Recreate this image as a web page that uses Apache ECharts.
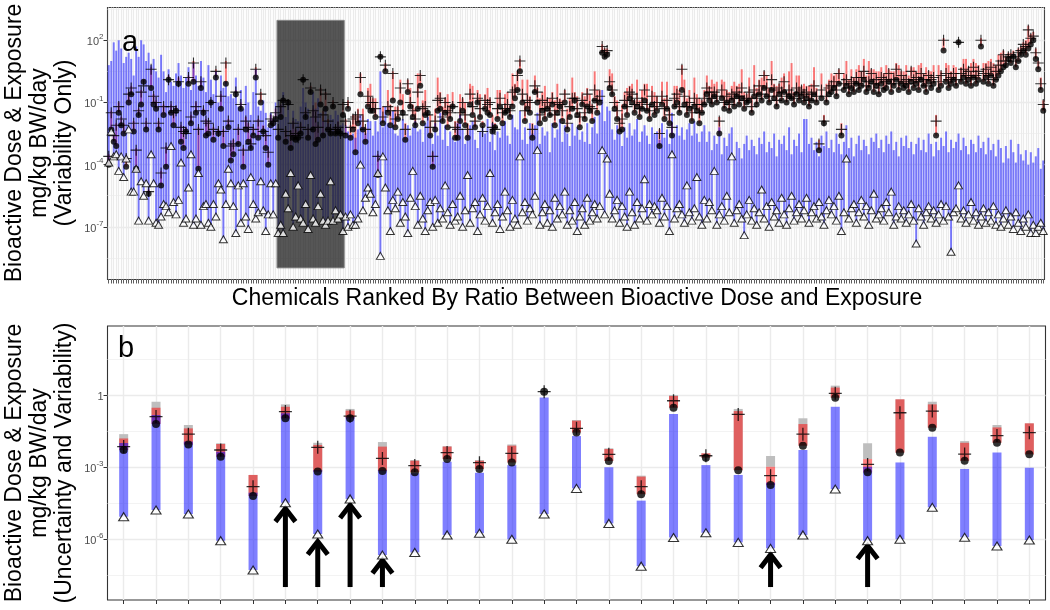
<!DOCTYPE html>
<html>
<head>
<meta charset="utf-8">
<script src="https://cdn.jsdelivr.net/npm/echarts@6/dist/echarts.min.js"></script>
<style>html,body{margin:0;padding:0;background:#fff}#chart{width:1050px;height:610px}</style>
</head>
<body>
<div id="chart"></div>
<script>
// ---------------- Panel a : 376 chemicals, values are log10(mg/kg BW/day) ----------------
const topExposureLowLog10 = [ // triangles = lower end of blue bar
 -3.9,-2.4,-3.6,-3.5,-4.3,-3.6,-4.6,-3.7,-2.3,-5.3,
 -5.3,-4.2,-6.7,-4.8,-5.5,-4.9,-6.7,-3.5,-4.9,-6.8,
 -6.9,-6.5,-5.9,-6.0,-6.3,-3.1,-5.8,-6.4,-5.7,-3.9,
 -6.8,-6.6,-5.1,-3.5,-6.9,-6.6,-4.4,-6.9,-6.0,-5.9,
 -6.8,-7.0,-5.9,-6.5,-4.9,-5.2,-7.6,-5.9,-4.2,-4.9,
 -6.0,-7.3,-5.0,-6.8,-4.9,-6.5,-7.1,-4.6,-5.9,-6.6,
 -6.3,-4.8,-6.2,-7.2,-6.4,-4.9,-6.4,-4.9,-7.3,-6.9,
 -7.3,-5.4,-6.1,-4.4,-7.0,-6.5,-5.0,-6.6,-6.8,-5.9,
 -7.1,-4.5,-6.6,-6.8,-6.0,-5.4,-6.7,-6.9,-6.7,-4.8,
 -6.7,-6.2,-6.6,-6.4,-7.2,-6.5,-7.0,-6.4,-6.9,-6.9,
 -6.6,-4.0,-6.2,-5.6,-5.1,-5.4,-6.3,-5.9,-4.4,-8.4,
 -3.6,-5.1,-6.2,-7.2,-5.7,-6.1,-5.3,-6.8,-5.8,-6.5,
 -7.3,-5.6,-4.3,-6.0,-6.9,-5.5,-6.6,-7.2,-6.2,-5.8,
 -7.0,-5.7,-6.8,-6.1,-6.6,-5.0,-6.3,-6.9,-5.9,-6.7,
 -6.5,-5.5,-7.0,-6.2,-4.5,-6.8,-6.1,-5.8,-7.2,-6.4,
 -5.6,-6.7,-6.0,-4.4,-6.8,-6.3,-5.9,-7.1,-6.5,-5.3,
 -6.2,-7.0,-5.7,-6.6,-6.9,-3.6,-6.3,-5.8,-6.7,-6.1,
 -6.4,-5.5,-3.3,-6.9,-6.3,-5.9,-6.8,-6.2,-7.0,-5.6,
 -6.6,-6.0,-6.4,-5.3,-6.9,-6.2,-6.7,-5.8,-7.2,-6.5,
 -6.1,-6.9,-5.6,-6.7,-6.3,-5.9,-6.6,-6.0,-3.3,-6.4,
 -3.7,-5.4,-6.6,-6.2,-5.7,-6.8,-6.0,-6.5,-7.0,-5.3,
 -6.3,-6.9,-5.8,-6.6,-6.1,-4.7,-6.7,-5.9,-6.4,-6.0,
 -6.2,-6.8,-5.6,-6.5,-6.0,-7.2,-3.5,-6.6,-6.1,-5.9,
 -6.4,-6.8,-5.0,-6.3,-6.7,-6.1,-4.6,-6.5,-6.9,-5.7,
 -6.6,-5.8,-6.2,-4.3,-6.9,-6.4,-6.0,-6.7,-5.5,-6.3,
 -3.6,-6.8,-6.2,-5.9,-6.6,-7.4,-6.4,-5.7,-6.7,-6.1,
 -6.9,-6.3,-5.2,-6.6,-6.0,-7.0,-5.8,-6.5,-6.2,-6.8,
 -5.6,-6.4,-6.9,-6.1,-5.5,-6.7,-6.3,-5.9,-6.6,-6.2,
 -5.6,-6.8,-6.3,-6.0,-6.6,-5.8,-6.5,-6.9,-6.2,-5.7,
 -6.4,-6.0,-6.7,-5.5,-7.2,-6.3,-3.7,-6.6,-6.1,-5.9,
 -6.8,-6.3,-5.7,-6.5,-6.0,-6.9,-6.2,-5.4,-6.6,-6.4,
 -6.1,-6.7,-5.8,-6.3,-5.3,-6.9,-6.5,-6.0,-6.6,-6.2,
 -6.8,-6.4,-5.9,-6.7,-7.8,-6.1,-6.5,-6.9,-6.3,-6.0,
 -6.6,-6.2,-6.8,-6.4,-5.9,-6.7,-6.0,-6.5,-8.2,-6.3,
 -6.1,-5.0,-6.6,-6.2,-6.8,-6.4,-5.8,-6.7,-6.3,-6.9,
 -6.5,-6.1,-6.8,-6.3,-6.7,-6.0,-6.9,-6.4,-7.0,-6.6,
 -6.2,-6.9,-6.5,-7.1,-6.3,-6.8,-7.2,-6.6,-7.0,-6.4,
 -7.3,-6.9,-7.3,-7.0,-6.8,-7.2
];
const topExposureHighLog10 = [ // upper end of blue bar
 0.8,1.0,1.9,1.5,2.0,1.6,0.9,1.2,1.4,1.1,
 0.3,1.7,1.2,2.0,1.8,1.0,1.4,0.8,1.1,0.5,
 0.2,1.3,0.5,-0.5,0.6,0.0,-0.2,0.4,0.9,0.3,
 -0.3,0.2,0.7,-0.4,0.9,0.3,-0.2,1.0,0.2,-0.5,
 0.8,0.1,-0.6,0.5,-1.0,0.3,-0.3,0.0,-0.7,-0.6,
 -0.8,0.2,-1.2,-0.4,-1.3,-0.2,-1.0,-1.6,-0.5,0.6,
 -1.2,-1.4,-0.9,-1.5,-2.2,-1.5,-1.8,-1.0,-0.9,-1.1,
 -0.5,-1.7,-0.9,-2.0,-1.4,-1.8,-1.9,-1.2,-0.3,-1.0,
 -1.3,-1.7,-0.5,-1.3,-0.8,-1.5,-1.9,-1.2,-2.0,-1.6,
 -1.8,-1.4,-1.6,-2.1,-2.0,-2.1,-2.4,-2.6,-2.5,-2.7,
 -2.3,-1.6,-2.2,-2.5,-1.8,-1.9,-2.6,-1.9,-2.4,0.5,
 -2.2,-1.2,-2.0,-2.2,-1.4,-2.5,-2.6,-2.3,-1.8,-2.7,
 -2.1,-2.6,-2.2,-1.9,-2.4,-2.3,-2.9,-2.0,-1.7,-2.5,
 -3.0,-2.0,-2.6,-1.5,-2.8,-2.1,-3.1,-2.4,-2.7,-2.9,
 -2.0,-1.6,-2.3,-3.0,-2.6,-2.1,-1.9,-2.8,-3.2,-2.4,
 -2.2,-2.5,-1.8,-2.9,-2.0,-3.3,-2.4,-2.7,-2.1,-1.9,
 -2.6,-3.0,-1.6,-2.2,-2.3,-1.4,-2.8,-2.2,-3.0,-2.0,
 -2.5,-2.1,-1.5,-3.0,-2.2,-2.6,-2.4,-3.4,-2.0,-2.7,
 -2.3,-1.8,-2.9,-2.1,-2.5,-3.1,-2.0,-2.6,-2.2,-2.8,
 -2.4,-2.9,-2.0,-3.0,-2.2,-1.7,-2.5,-1.5,-0.4,-1.9,
 -1.2,-1.4,-2.3,-2.8,-2.1,-2.5,-3.1,-2.2,-2.7,-2.0,
 -2.6,-2.3,-1.8,-2.9,-2.4,-2.1,-2.6,-3.0,-2.2,-2.5,
 -2.4,-2.8,-2.0,-2.7,-2.3,-3.0,-1.5,-2.5,-2.1,-2.6,
 -2.2,-2.8,-2.3,-2.0,-2.6,-1.9,-2.5,-2.9,-2.4,-2.1,
 -2.9,-2.4,-3.3,-2.6,-3.0,-2.2,-3.5,-2.7,-3.1,-2.5,
 -2.2,-3.6,-2.9,-3.2,-3.7,-3.0,-2.6,-3.3,-2.8,-3.1,
 -3.5,-2.7,-3.0,-2.4,-3.4,-2.9,-3.2,-2.5,-3.6,-2.8,
 -3.0,-2.6,-3.3,-2.2,-3.5,-2.8,-3.1,-2.5,-3.4,-1.8,
 -1.8,-3.0,-2.7,-3.3,-2.9,-3.6,-2.6,-3.1,-2.4,-3.2,
 -2.8,-3.4,-2.5,-3.0,-3.5,-2.9,-2.1,-3.2,-2.7,-3.6,
 -3.0,-2.6,-3.3,-2.8,-3.1,-3.5,-2.7,-2.9,-2.5,-3.2,
 -2.8,-3.4,-2.6,-3.0,-2.4,-3.3,-2.9,-3.6,-2.7,-3.1,
 -2.6,-3.2,-2.9,-3.5,-3.0,-2.7,-3.3,-2.8,-3.4,-2.5,
 -3.0,-3.6,-2.9,-3.3,-2.7,-3.1,-2.4,-3.4,-2.8,-3.2,
 -2.9,-2.5,-3.3,-2.7,-3.1,-3.5,-2.8,-3.0,-3.4,-2.6,
 -3.2,-2.9,-3.5,-2.7,-3.3,-3.0,-3.6,-2.8,-3.2,-3.9,
 -3.1,-3.7,-2.8,-3.4,-3.9,-3.0,-3.5,-3.8,-3.3,-4.0,
 -3.4,-3.9,-3.6,-3.2,-4.2,-3.8
];
const topDoseLowLog10 = [ // filled dots = lower end of red bar
 -4.0,-2.3,-2.9,-3.1,-1.5,-2.1,-2.5,-4.1,-1.0,-0.6,
 -2.4,-4.2,-1.6,-1.1,0.0,-2.3,-5.4,-0.3,-1.1,-1.3,
 -2.3,-5.0,-1.6,-4.1,0.1,-1.5,-2.1,-1.4,-0.1,-2.9,
 -3.2,-2.4,-0.1,-2.0,0.0,-1.5,-4.2,-0.3,-1.5,-2.6,
 -2.5,-1.0,-2.8,0.2,-2.5,-1.3,-3.1,-0.1,-2.2,-3.8,
 -3.5,-0.6,-3.0,-1.3,-4.1,-2.3,-2.9,-3.2,-2.6,0.2,
 -2.7,-1.0,-2.4,-3.2,-4.0,-2.1,-2.0,-1.8,-2.7,-1.7,
 -0.9,-2.9,-1.0,-3.2,-2.7,-2.8,-2.7,-2.5,0.1,-1.7,
 -2.7,-0.5,-2.3,-3.0,-2.8,-1.1,-2.6,-1.3,-2.3,-2.5,
 -1.2,-2.5,-2.4,-2.5,-1.6,-2.6,-1.3,-2.7,-2.3,-3.4,
 -2.0,-0.6,-2.3,-2.9,-1.2,-1.4,-1.4,-1.7,-4.5,1.2,
 -2.0,0.5,-1.5,-2.1,-0.9,-2.2,-1.8,-1.0,-1.5,-2.8,
 -0.5,-1.2,-1.7,-2.1,-1.3,-0.2,-2.0,-1.6,-1.5,-2.6,
 -4.1,-2.3,-1.4,-1.3,-1.9,-1.5,-2.2,-1.8,-1.2,-2.7,
 -2.7,-1.9,-1.4,-2.1,-2.7,-1.1,-1.6,-2.2,-1.0,-1.7,
 -2.1,-1.3,-1.5,-1.6,-2.4,-2.2,-1.8,-1.2,-2.0,-1.5,
 -1.4,-1.7,-1.2,-0.8,-0.4,0.5,-1.0,-1.9,-1.3,-1.5,
 -2.7,-0.5,-1.0,-2.0,-1.4,-1.8,-1.3,-1.6,-1.1,-2.1,
 -1.5,-1.2,-1.9,-1.0,-2.3,-1.7,-1.3,-0.9,-1.6,-2.2,
 -1.1,-1.8,-1.2,-1.4,-1.9,-0.9,-1.5,-1.0,1.4,1.2,
 1.3,-0.3,-0.6,-1.3,-1.8,-2.4,-2.3,-1.2,-1.6,-0.8,
 -1.0,-1.5,-1.2,-1.7,-1.3,-0.9,-1.4,-1.8,-1.1,-1.6,
 -1.4,-3.1,-1.1,-1.8,-1.3,-2.0,-2.6,-1.2,-1.0,-1.5,
 -0.4,-1.1,-1.6,-1.3,-1.9,-1.2,-1.4,-2.0,-1.5,-1.1,
 -0.6,-0.9,-1.1,-0.7,-1.0,-2.5,-0.8,-1.3,-1.0,-1.4,
 -0.9,-1.2,-0.7,-1.1,-0.8,-1.3,-1.0,-0.9,-1.5,-0.7,
 -1.1,-0.6,-0.9,-0.3,-0.7,-1.0,-0.4,-0.8,-1.2,-0.6,
 -0.9,-0.5,-1.0,-0.7,-0.8,-1.1,-0.6,-0.9,-0.7,-1.0,
 -0.8,-1.2,-0.9,-0.6,-1.0,-3.3,-0.8,-2.0,-1.0,-0.6,
 -0.5,-0.3,-0.7,-0.1,-2.6,-0.4,-0.2,-0.6,-0.3,-0.5,
 -0.1,-0.4,-0.2,0.1,-0.5,-0.3,0.0,-0.5,-0.2,-0.6,
 -0.1,-0.4,-0.3,0.0,-0.5,-0.2,0.1,-0.4,-0.1,-0.3,
 -0.2,-0.5,0.0,-0.3,-0.1,-0.4,0.1,-0.2,-0.5,0.0,
 -0.3,-0.1,-2.6,-0.4,-0.2,1.5,0.0,-0.3,-0.1,0.1,
 -0.2,1.9,0.0,0.2,-0.1,0.1,-0.2,0.2,-0.1,0.1,
 1.7,0.0,0.2,-0.1,0.3,-0.2,0.1,0.3,0.5,0.7,
 0.8,1.1,0.9,1.2,0.7,1.0,1.3,1.5,1.3,1.6,
 1.8,2.0,1.1,0.6,-0.4,-1.4
];
const topDoseMidLog10 = [ // plus signs
 -3.6,-1.5,-2.6,-2.1,-1.2,-1.8,-2.1,-3.7,-0.6,-0.3,
 -2.0,-3.3,-1.4,-0.5,-0.2,-2.0,-5.3,0.6,-0.7,-1.0,
 -2.0,-4.4,-1.2,-3.2,0.1,-1.2,-1.5,-1.4,0.0,-2.2,
 -2.4,-2.5,0.2,-1.7,0.9,-1.2,-2.3,0.0,-1.4,-1.9,
 -2.0,-1.0,-2.3,0.5,-2.4,-0.7,-2.4,0.9,-1.9,-3.1,
 -3.0,-0.5,-2.3,-1.1,-3.3,-1.9,-2.2,-3.0,-2.3,0.6,
 -1.9,-0.6,-2.4,-2.6,-3.4,-1.8,-1.9,-1.5,-2.3,-1.2,
 -0.9,-2.4,-1.1,-2.6,-2.0,-2.5,-2.7,-2.2,0.1,-1.5,
 -2.3,-0.3,-1.4,-1.7,-2.2,-0.4,-1.6,-0.6,-1.9,-2.3,
 -1.0,-2.3,-2.2,-2.5,-1.1,-1.9,-1.0,-2.2,-1.8,-1.7,
 -1.6,0.2,-1.9,-2.3,-0.7,-1.0,-1.0,-1.3,-3.6,1.2,
 -1.7,0.8,-1.2,-1.4,0.4,-1.8,-1.4,-0.3,-1.6,-2.3,
 -0.1,-1.0,-1.4,-1.8,-0.5,0.3,-1.3,-1.2,-1.6,-2.2,
 -3.6,-1.9,-0.9,-0.8,-1.7,-1.0,-1.4,-1.5,-1.2,-2.2,
 -2.3,-1.5,-1.0,-1.6,-2.3,-0.6,-1.2,-1.9,-0.8,-1.3,
 -2.4,-0.9,-1.1,-1.0,-2.2,-2.3,-1.3,-0.8,-1.5,-1.3,
 -1.1,-1.4,-0.5,-0.4,0.3,1.0,-0.6,-1.4,-0.9,-1.0,
 -2.3,-0.2,-0.5,-1.6,-0.9,-1.3,-1.0,-1.4,-0.8,-1.6,
 -1.0,-1.1,-1.4,-0.6,-2.0,-1.2,-0.8,-0.8,-1.3,-1.7,
 -0.9,-1.5,-0.6,-1.2,-1.3,-0.4,-0.9,-0.7,1.7,1.4,
 1.5,0.0,-0.4,-1.0,-1.4,-2.0,-1.8,-0.9,-1.2,-0.5,
 -0.6,-1.1,-0.8,-1.3,-1.0,-0.4,-1.1,-1.4,-0.7,-1.2,
 -1.0,-2.5,-0.7,-1.3,-0.9,-1.6,-2.2,-0.8,-0.6,-1.2,
 0.6,-0.7,-1.2,-1.0,-1.5,-0.8,-1.1,-1.5,-1.1,-0.8,
 -0.3,-0.5,-0.8,-0.5,-0.7,-1.9,-0.4,-1.0,-0.7,-1.1,
 -0.6,-0.8,-0.5,-0.7,-0.3,-0.9,-0.8,-0.5,-1.2,-0.4,
 -0.8,-0.2,-0.6,0.3,-0.3,-0.7,0.1,-0.4,-0.9,-0.3,
 -0.5,0.0,-0.7,-0.4,-0.6,-0.8,-0.3,-0.5,-0.4,-0.6,
 -0.5,-0.9,-0.6,-0.2,-0.7,-3.0,-0.4,-1.9,-0.7,-0.3,
 -0.2,0.0,-0.4,0.4,-2.3,-0.1,0.1,-0.3,0.0,-0.1,
 0.2,-0.1,0.2,0.5,-0.2,0.0,0.4,-0.1,0.1,-0.3,
 0.2,0.1,0.0,0.4,-0.1,0.1,0.6,-0.1,0.3,0.0,
 0.1,-0.1,0.5,0.1,0.2,0.0,0.4,0.1,-0.2,0.3,
 0.1,0.2,-1.9,0.0,0.3,2.0,0.4,0.1,0.2,0.4,
 0.1,1.9,0.4,0.6,0.3,0.5,0.2,0.7,0.3,0.5,
 2.0,0.4,0.6,0.3,0.7,0.1,0.5,0.8,1.0,1.3,
 1.0,1.2,1.3,1.2,1.0,1.4,1.5,1.8,1.7,2.5,
 2.1,2.2,1.4,0.9,-0.1,-1.1
];
const topDoseHighLog10 = [ // upper end of red bar
 -3.5,-1.4,-2.5,-2.0,-1.0,-1.7,-2.0,-3.6,-0.5,-0.2,
 -1.9,-3.2,-1.3,-0.4,0.1,-1.9,-5.2,0.7,-0.6,-0.9,
 -1.9,-4.3,-1.1,-3.1,0.3,-1.1,-1.4,-1.2,0.2,-2.1,
 -2.3,-2.2,0.3,-1.6,1.0,-1.0,-2.2,0.1,-1.3,-1.8,
 -1.9,-0.9,-2.2,0.6,-2.3,-0.6,-2.3,1.0,-1.8,-3.0,
 -2.8,-0.4,-2.2,-1.0,-3.2,-1.7,-2.0,-2.6,-2.2,0.7,
 -1.8,-0.5,-2.1,-2.5,-3.3,-1.6,-1.8,-1.3,-2.2,-1.1,
 -0.8,-2.3,-0.9,-2.4,-1.9,-2.3,-2.4,-2.0,0.2,-1.4,
 -2.2,-0.2,-1.3,-1.0,-2.1,-0.3,-1.4,-0.5,-1.8,-2.2,
 -0.9,-2.2,-1.9,-2.3,-1.0,-1.8,-0.9,-2.1,-1.6,-1.6,
 -1.3,0.4,-1.3,-2.2,-0.3,-0.1,-0.8,-0.8,-3.5,1.3,
 -1.2,0.9,-0.4,-1.1,0.5,-1.2,-1.2,0.1,-0.6,-2.0,
 0.1,-0.3,-1.1,-1.3,0.4,0.4,-0.9,-0.4,-1.4,-1.6,
 -3.4,-1.3,0.2,-0.5,-1.2,-0.8,-0.6,-1.1,-0.5,-1.9,
 -1.9,-0.6,-0.8,-1.0,-2.0,-0.1,-0.2,-1.7,-0.4,-0.6,
 -1.9,-0.6,-0.3,-0.8,-1.6,-2.0,-0.4,-0.4,-1.3,-0.6,
 -0.5,-1.2,0.4,-0.1,0.5,1.1,0.1,-1.0,0.1,-0.7,
 -2.0,0.3,-0.3,-0.8,-0.5,-0.2,-0.8,-0.8,-0.5,-0.9,
 -0.1,-0.8,-0.9,-0.4,-1.3,-0.8,0.2,-0.5,-0.7,-1.5,
 -0.5,-0.7,-0.3,-0.6,-1.1,0.5,-0.4,-0.4,1.8,1.6,
 1.6,0.6,0.4,-0.7,-0.9,-1.8,-1.1,-0.5,-0.3,-0.2,
 -0.1,-0.9,0.1,-0.9,-0.4,-0.1,-0.1,-1.2,-0.2,-0.5,
 -0.7,-2.3,0.0,-0.8,0.0,-1.3,-2.0,-0.2,-0.2,-0.4,
 0.8,0.1,-0.8,-0.4,-1.2,0.2,-0.6,-0.8,-0.9,-0.4,
 0.3,-0.2,0.1,-0.1,0.0,-1.7,0.1,0.0,-0.4,-0.5,
 -0.2,0.0,-0.2,-0.1,0.6,-0.5,-0.6,0.2,-0.7,0.8,
 -0.3,0.1,0.2,0.5,0.3,-0.3,1.0,-0.1,-0.2,-0.1,
 0.2,0.4,-0.5,0.5,0.9,-0.5,0.3,0.3,-0.2,-0.1,
 -0.2,-0.2,-0.1,0.7,-0.3,-2.8,0.4,-1.6,-0.1,0.1,
 0.4,0.3,0.4,0.6,-2.0,0.4,1.0,0.1,0.6,0.2,
 0.6,0.8,0.5,1.1,0.3,1.0,0.6,0.6,0.5,0.5,
 0.7,0.4,0.8,0.6,0.5,0.5,0.9,0.8,0.5,0.5,
 0.8,0.3,0.7,0.7,0.5,0.8,0.9,0.4,0.7,0.5,
 0.5,0.8,-1.6,0.8,0.5,2.1,0.9,0.8,0.5,0.8,
 0.7,2.0,0.7,1.1,1.1,0.7,0.9,1.1,0.9,0.8,
 2.1,0.9,0.9,1.0,1.1,0.9,0.8,1.3,1.4,1.5,
 1.2,1.4,1.4,1.5,1.1,1.6,1.7,1.9,2.0,2.7,
 2.3,2.4,1.6,1.0,0.2,-0.9
];
// shaded block in panel a: first/last ranked chemical (0-based) and log10 extent
const highlightChemicals = [68, 94];
const highlightLog10 = [-8.98, 2.96];

// ---------------- Panel b : 29 chemicals, log10(mg/kg BW/day) ----------------
const bUncertHigh = [-1.63,-0.28,-1.25,-2.01,-3.33,-0.39,-1.99,-0.58,-1.96,-2.71,-2.13,-2.71,-2.06,null,-1.04,-2.22,-3.36,0.0,-2.43,-0.58,-2.54,-0.97,0.39,-2.01,-0.18,-0.28,-1.92,-1.25,-1.18];
const bUncertLow  = [-2.29,-1.21,-2.06,-2.57,-4.21,-0.97,-3.19,-0.97,-3.17,-3.22,-2.67,-3.08,-2.81,null,-1.56,-2.75,-4.13,-0.53,-2.61,-3.13,-2.99,-2.11,-0.11,-2.67,-2.40,-1.36,-2.74,-1.99,-2.47];
const bDoseHigh   = [-1.81,-0.53,-1.39,-2.04,-3.33,-0.49,-2.08,-0.65,-2.15,-2.74,-2.15,-2.74,-2.11,null,-1.07,-2.25,-3.40,-0.04,-2.43,-0.67,-2.99,-1.21,0.31,-2.67,-0.18,-0.39,-1.99,-1.35,-1.18];
const bDoseMid    = [-2.15,-0.90,-1.63,-2.29,-3.82,-0.69,-2.18,-0.88,-2.64,-2.94,-2.40,-2.82,-2.43,0.14,-1.39,-2.47,-3.82,-0.24,-2.53,-0.81,-3.36,-1.63,0.07,-2.89,-0.74,-0.67,-2.46,-1.69,-1.57];
const bDoseLow    = [-2.29,-1.21,-2.06,-2.57,-4.21,-0.97,-3.19,-0.97,-3.17,-3.22,-2.67,-3.08,-2.81,0.14,-1.56,-2.75,-4.13,-0.53,-2.61,-3.13,-3.75,-2.11,-0.11,-3.22,-2.40,-1.36,-2.74,-1.99,-2.47];
const bExpHigh    = [-2.00,-0.83,-1.94,-2.36,-4.07,-0.76,-3.13,-0.92,-3.13,-3.26,-2.78,-3.24,-2.92,-0.10,-1.71,-3.01,-4.40,-0.79,-2.92,-3.33,-3.65,-2.29,-0.49,-2.99,-2.81,-1.74,-3.08,-2.39,-3.03];
const bExpLow     = [-5.07,-4.79,-4.96,-6.07,-7.29,-4.49,-5.79,-4.33,-6.67,-6.56,-5.83,-5.76,-6.01,-4.96,-3.89,-5.35,-7.13,-5.94,-5.74,-6.14,-6.39,-5.83,-3.92,-6.07,-6.01,-4.68,-5.93,-6.29,-6.04];
const arrowChemicals = [6, 7, 8, 9, 21, 24];           // 1-based position in panel b
const arrowTipLog10  = [-4.65, -6.02, -4.50, -6.80, -6.57, -6.20];
const arrowBaseLog10 = -8.0;

// axis ranges / ticks (log10 units)
const topRange = [-9.54, 3.58];
const topMajorTicks = [-7, -4, -1, 2];
const topMinorTicks = [-8.5, -5.5, -2.5, 0.5, 3.5];
const botRange = [-8.54, 2.875];
const botMajorTicks = [-6, -3, 0];
const botMinorTicks = [-7.5, -4.5, -1.5, 1.5];

// ---------------- build ----------------
const topIds = topExposureLowLog10.map((_, i) => 'a' + (i + 1));
const botIds = bExpLow.map((_, i) => 'b' + (i + 1));

const FONT = '"Liberation Sans", Arial, sans-serif';
const labelRich = {
  b: { fontSize: 11, color: '#4d4d4d', fontFamily: FONT, lineHeight: 15, verticalAlign: 'bottom' },
  s: { fontSize: 8, color: '#4d4d4d', fontFamily: FONT, lineHeight: 15, verticalAlign: 'top' }
};
function expLabel(v) { return Math.abs(v) < 1e-9 ? '{b|1}' : '{b|10}{s|' + Math.round(v) + '}'; }

function rangeBar(width, color) {
  return function (params, api) {
    const x = api.value(0);
    const a = api.coord([x, api.value(1)]);
    const b = api.coord([x, api.value(2)]);
    return {
      type: 'rect',
      shape: { x: a[0] - width / 2, y: Math.min(a[1], b[1]), width: width, height: Math.abs(a[1] - b[1]) },
      style: { fill: color }
    };
  };
}
function boxItem(params, api) {
  const band = api.size([1, 0])[0];
  const p1 = api.coord([api.value(0), api.value(3)]);
  const p2 = api.coord([api.value(1), api.value(2)]);
  return {
    type: 'rect',
    shape: { x: p1[0] - band / 2, y: p1[1], width: p2[0] - p1[0] + band, height: p2[1] - p1[1] },
    style: { fill: 'rgba(30,30,30,0.75)', stroke: '#8a8a8a', lineWidth: 1 }
  };
}
function arrowItem(params, api) {
  const x = api.value(0);
  const base = api.coord([x, api.value(1)]);
  const tip = api.coord([x, api.value(2)]);
  return {
    type: 'group',
    children: [
      { type: 'line', shape: { x1: base[0], y1: base[1], x2: tip[0], y2: tip[1] + 3 }, style: { stroke: '#000', lineWidth: 5 } },
      { type: 'polyline', shape: { points: [[tip[0] - 10, tip[1] + 15], [tip[0], tip[1] + 2], [tip[0] + 10, tip[1] + 15]] },
        style: { stroke: '#000', lineWidth: 5, fill: null, lineJoin: 'miter' } }
    ]
  };
}
const PLUS = 'path://M0,5.4L12,5.4L12,6.6L0,6.6Z M5.4,0L6.6,0L6.6,12L5.4,12Z';

const pair = (arr) => arr.map((v, i) => [i, v]);
const range = (lo, hi) => lo.map((v, i) => [i, v, hi[i]]).filter(d => d[1] != null && d[2] != null);

function catAxis(grid, ids, tickWidth, gridWidth) {
  return {
    type: 'category', gridIndex: grid, data: ids, boundaryGap: true, position: 'bottom',
    axisLine: { show: false, onZero: false }, axisLabel: { show: false },
    axisTick: { show: true, interval: 0, alignWithLabel: true, length: 4, lineStyle: { color: '#333', width: tickWidth } },
    splitLine: { show: true, interval: 0, alignWithLabel: true, lineStyle: { color: '#ebebeb', width: gridWidth } }
  };
}
function valAxis(grid, rng, major) {
  return {
    type: 'value', gridIndex: grid, min: rng[0], max: rng[1], position: 'left',
    axisLine: { show: false, onZero: false },
    axisTick: { show: true, length: 4, lineStyle: { color: '#333' }, customValues: major },
    axisLabel: { show: true, customValues: major, formatter: expLabel, rich: labelRich, margin: 4 },
    splitLine: { show: true, lineStyle: { color: '#ebebeb', width: 1.4 } }
  };
}
function minorAxis(grid, rng, minor) {
  return {
    type: 'value', gridIndex: grid, min: rng[0], max: rng[1], position: 'left',
    axisLine: { show: false, onZero: false }, axisLabel: { show: false },
    axisTick: { show: false, customValues: minor },
    splitLine: { show: true, lineStyle: { color: '#f0f0f0', width: 0.8 } }
  };
}

const option = {
  animation: false,
  backgroundColor: '#ffffff',
  textStyle: { fontFamily: FONT },
  grid: [
    { left: 107.5, top: 7.5, width: 937, height: 272, show: true, borderColor: '#333', borderWidth: 1.1, backgroundColor: '#fff' },
    { left: 107.5, top: 326, width: 938, height: 274, show: true, borderColor: '#333', borderWidth: 1.1, backgroundColor: '#fff' }
  ],
  xAxis: [catAxis(0, topIds, 0.8, 1.2), catAxis(1, botIds, 1, 1.4)],
  yAxis: [valAxis(0, topRange, topMajorTicks), minorAxis(0, topRange, topMinorTicks),
          valAxis(1, botRange, botMajorTicks), minorAxis(1, botRange, botMinorTicks)],
  series: [
    // ---- panel a ----
    { type: 'custom', xAxisIndex: 0, yAxisIndex: 0, silent: true, renderItem: rangeBar(2, 'rgba(255,0,0,0.5)'),
      encode: { x: 0, y: [1, 2] }, data: range(topDoseLowLog10, topDoseHighLog10) },
    { type: 'scatter', xAxisIndex: 0, yAxisIndex: 0, silent: true, symbol: 'circle', symbolSize: 6,
      itemStyle: { color: '#000' }, data: pair(topDoseLowLog10) },
    { type: 'custom', xAxisIndex: 0, yAxisIndex: 0, silent: true, renderItem: rangeBar(2, 'rgba(0,0,255,0.5)'),
      encode: { x: 0, y: [1, 2] }, data: range(topExposureLowLog10, topExposureHighLog10) },
    { type: 'custom', xAxisIndex: 0, yAxisIndex: 0, silent: true, renderItem: boxItem,
      encode: { x: [0, 1], y: [2, 3] }, data: [[highlightChemicals[0], highlightChemicals[1], highlightLog10[0], highlightLog10[1]]] },
    { type: 'scatter', xAxisIndex: 0, yAxisIndex: 0, silent: true, symbol: PLUS, symbolSize: 11,
      itemStyle: { color: '#000' }, data: pair(topDoseMidLog10) },
    { type: 'scatter', xAxisIndex: 0, yAxisIndex: 0, silent: true, symbol: 'triangle', symbolSize: [8, 7],
      itemStyle: { color: '#fff', borderColor: '#000', borderWidth: 1 }, data: pair(topExposureLowLog10) },
    // ---- panel b ----
    { type: 'custom', xAxisIndex: 1, yAxisIndex: 2, silent: true, renderItem: rangeBar(9, '#bebebe'),
      encode: { x: 0, y: [1, 2] }, data: range(bUncertLow, bUncertHigh) },
    { type: 'custom', xAxisIndex: 1, yAxisIndex: 2, silent: true, renderItem: rangeBar(9, 'rgba(255,0,0,0.5)'),
      encode: { x: 0, y: [1, 2] }, data: range(bDoseLow, bDoseHigh) },
    { type: 'scatter', xAxisIndex: 1, yAxisIndex: 2, silent: true, symbol: 'circle', symbolSize: 8,
      itemStyle: { color: '#000' }, data: pair(bDoseLow) },
    { type: 'custom', xAxisIndex: 1, yAxisIndex: 2, silent: true, renderItem: rangeBar(9, 'rgba(0,0,255,0.5)'),
      encode: { x: 0, y: [1, 2] }, data: range(bExpLow, bExpHigh) },
    { type: 'scatter', xAxisIndex: 1, yAxisIndex: 2, silent: true, symbol: PLUS, symbolSize: 13,
      itemStyle: { color: '#000' }, data: pair(bDoseMid) },
    { type: 'scatter', xAxisIndex: 1, yAxisIndex: 2, silent: true, symbol: 'triangle', symbolSize: [10, 8],
      itemStyle: { color: '#fff', borderColor: '#000', borderWidth: 1.1 }, data: pair(bExpLow) },
    { type: 'custom', xAxisIndex: 1, yAxisIndex: 2, silent: true, renderItem: arrowItem,
      encode: { x: 0, y: [1, 2] }, data: arrowChemicals.map((c, k) => [c - 1, arrowBaseLog10, arrowTipLog10[k]]) }
  ],
  graphic: [
    { type: 'text', z: 100, x: 40, y: 143, rotation: Math.PI / 2,
      style: { text: 'Bioactive Dose & Exposure\nmg/kg BW/day\n(Variability Only)', font: '23px ' + FONT, fill: '#000', align: 'center', verticalAlign: 'middle', lineHeight: 25 } },
    { type: 'text', z: 100, x: 40, y: 463, rotation: Math.PI / 2,
      style: { text: 'Bioactive Dose & Exposure\nmg/kg BW/day\n(Uncertainty and Variability)', font: '23px ' + FONT, fill: '#000', align: 'center', verticalAlign: 'middle', lineHeight: 25 } },
    { type: 'text', z: 100, x: 577, y: 299,
      style: { text: 'Chemicals Ranked By Ratio Between Bioactive Dose and Exposure', font: '23px ' + FONT, fill: '#000', align: 'center', verticalAlign: 'middle' } },
    { type: 'text', z: 100, x: 122, y: 43, style: { text: 'a', font: '29px ' + FONT, fill: '#000', align: 'left', verticalAlign: 'middle' } },
    { type: 'text', z: 100, x: 118, y: 349, style: { text: 'b', font: '29px ' + FONT, fill: '#000', align: 'left', verticalAlign: 'middle' } }
  ]
};
const chart = echarts.init(document.getElementById('chart'), null, { renderer: 'canvas' });
chart.setOption(option);
</script>
</body>
</html>
